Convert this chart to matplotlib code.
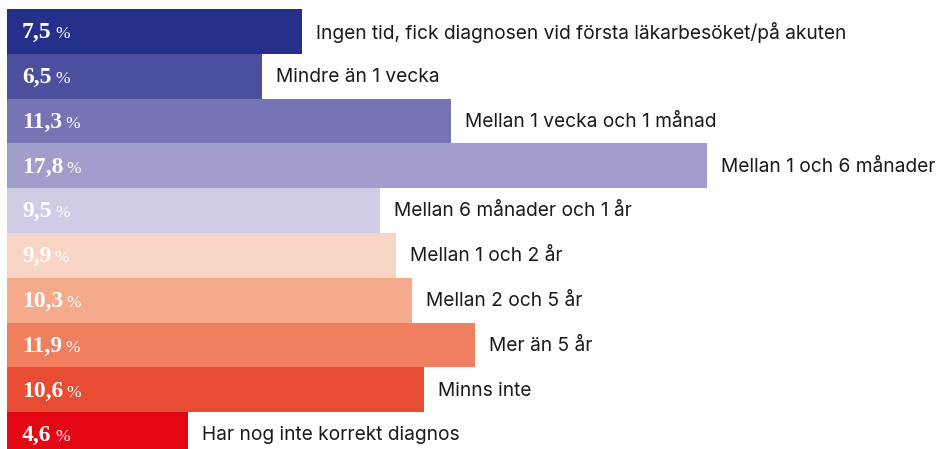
import matplotlib.pyplot as plt

categories = [
    "Ingen tid, fick diagnosen vid första läkarbesöket/på akuten",
    "Mindre än 1 vecka",
    "Mellan 1 vecka och 1 månad",
    "Mellan 1 och 6 månader",
    "Mellan 6 månader och 1 år",
    "Mellan 1 och 2 år",
    "Mellan 2 och 5 år",
    "Mer än 5 år",
    "Minns inte",
    "Har nog inte korrekt diagnos",
]
values = [7.5, 6.5, 11.3, 17.8, 9.5, 9.9, 10.3, 11.9, 10.6, 4.6]
value_labels = ["7,5", "6,5", "11,3", "17,8", "9,5", "9,9", "10,3", "11,9", "10,6", "4,6"]
colors = ["#25308a", "#4b4f9e", "#7674b3", "#a29ecb", "#cfcce5",
          "#f8d4c4", "#f5aa8c", "#ef7f5f", "#e84c33", "#e30613"]

W, H = 938, 449
px_per_unit = 39.3   # horizontal scale
row_h = 44.8         # bar pitch in pixels
x0, y0 = 7, 9        # pixel offset of first bar

fig = plt.figure(figsize=(W / 100, H / 100), dpi=100)
ax = fig.add_axes([0, 0, 1, 1])
ax.set_xlim(-x0 / px_per_unit, (W - x0) / px_per_unit)
ax.set_ylim((H - y0) / row_h - 0.5, -0.5 - y0 / row_h)
ax.axis("off")

ypos = range(len(values))
ax.barh(ypos, values, height=1.0, color=colors, left=0)

for i, (v, lab, cat) in enumerate(zip(values, value_labels, categories)):
    t = ax.text(15 / px_per_unit, i + 0.03, lab, color="white", fontsize=17,
                fontweight="bold", family="Liberation Serif", va="center", ha="left")
    ax.annotate("%", xy=(1, 0), xycoords=t, xytext=(2.5, 0.8), textcoords="offset points",
                color="white", fontsize=12.5, family="Liberation Serif", va="bottom", ha="left")
    ax.text(v + 14 / px_per_unit, i + 0.02, cat, color="#1a1a1a", fontsize=13.8,
            family="Inter", va="center", ha="left")

fig.savefig("out.png", dpi=100)
